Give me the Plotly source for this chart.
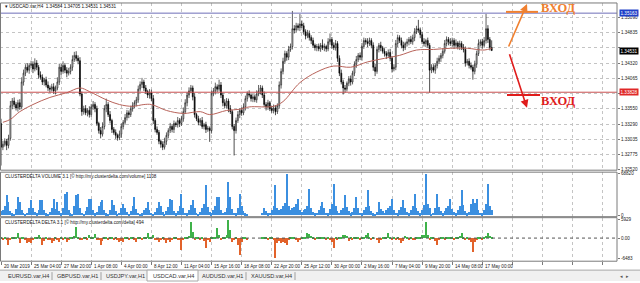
import plotly.graph_objects as go

W, H = 640, 283

# ---------------- data ----------------
tick_bars = [0, 16, 32, 48, 64, 80, 96, 112, 128, 144, 160, 176, 192, 208, 224, 240, 256]
tick_dates = ["20 Mar 2019", "25 Mar 04:00", "27 Mar 20:00", "1 Apr 08:00", "4 Apr 00:00",
              "8 Apr 12:00", "11 Apr 04:00", "15 Apr 16:00", "18 Apr 08:00", "22 Apr 20:00",
              "25 Apr 12:00", "30 Apr 00:00", "2 May 16:00", "7 May 04:00", "9 May 20:00",
              "14 May 08:00", "17 May 00:00"]
grid_bars = [0, 16, 32, 48, 64, 80, 96, 112, 128, 144, 160, 176, 192, 208, 224, 240, 256,
             272, 288, 304, 320]

price_ticks = [1.32520, 1.32775, 1.33035, 1.33290, 1.33550, 1.33805, 1.34065, 1.34320,
               1.34580, 1.34835, 1.35090]
# labels hidden behind the level/price boxes are left blank
price_labels = ["1.32520", "1.32775", "1.33035", "1.33290", "1.33550", "", "1.34065",
                "1.34320", "", "1.34835", "1.35090"]

first_open = 1.3330
closes = [
    1.3290, 1.3295, 1.3300, 1.3293, 1.3305, 1.3360, 1.3368, 1.3362, 1.3356, 1.3365,
    1.3358, 1.3400, 1.3415, 1.3425, 1.3420, 1.3428, 1.3430, 1.3422, 1.3432, 1.3425,
    1.3412, 1.3408, 1.3400, 1.3404, 1.3395, 1.3390, 1.3388, 1.3392, 1.3385, 1.3390,
    1.3400, 1.3425, 1.3418, 1.3428, 1.3420, 1.3415, 1.3418, 1.3425, 1.3438, 1.3445,
    1.3440, 1.3436, 1.3380, 1.3350, 1.3355, 1.3348, 1.3352, 1.3345, 1.3358, 1.3362,
    1.3355, 1.3330, 1.3318, 1.3312, 1.3325, 1.3355, 1.3362, 1.3345, 1.3335, 1.3320,
    1.3315, 1.3310, 1.3306, 1.3312, 1.3325, 1.3332, 1.3340, 1.3348, 1.3345, 1.3355,
    1.3360, 1.3365, 1.3370, 1.3388, 1.3396, 1.3400, 1.3390, 1.3384, 1.3378, 1.3382,
    1.3372, 1.3335, 1.3320, 1.3315, 1.3300, 1.3295, 1.3290, 1.3300, 1.3310, 1.3318,
    1.3325, 1.3320, 1.3330, 1.3328, 1.3335, 1.3330, 1.3338, 1.3350, 1.3365, 1.3378,
    1.3385, 1.3390, 1.3375, 1.3345, 1.3338, 1.3332, 1.3335, 1.3325, 1.3328, 1.3320,
    1.3322, 1.3318, 1.3380, 1.3385, 1.3392, 1.3388, 1.3395, 1.3378, 1.3365, 1.3360,
    1.3368, 1.3355, 1.3350, 1.3325, 1.3318, 1.3335, 1.3345, 1.3352, 1.3348, 1.3358,
    1.3372, 1.3380, 1.3378, 1.3372, 1.3375, 1.3370, 1.3380, 1.3385, 1.3390, 1.3378,
    1.3362, 1.3358, 1.3365, 1.3355, 1.3352, 1.3356, 1.3350, 1.3360, 1.3395, 1.3418,
    1.3435, 1.3448, 1.3442, 1.3455, 1.3460, 1.3490, 1.3488, 1.3495, 1.3492, 1.3498,
    1.3495, 1.3485, 1.3478, 1.3482, 1.3475, 1.3470, 1.3462, 1.3458, 1.3460, 1.3456,
    1.3462, 1.3458, 1.3460, 1.3456, 1.3468, 1.3472, 1.3462, 1.3458, 1.3465, 1.3440,
    1.3415, 1.3400, 1.3390, 1.3388, 1.3398, 1.3405, 1.3400, 1.3415, 1.3430, 1.3438,
    1.3445, 1.3442, 1.3460, 1.3470, 1.3468, 1.3465, 1.3470, 1.3462, 1.3425, 1.3418,
    1.3455, 1.3462, 1.3458, 1.3452, 1.3448, 1.3445, 1.3450, 1.3440, 1.3422, 1.3425,
    1.3465, 1.3475, 1.3470, 1.3462, 1.3458, 1.3465, 1.3468, 1.3472, 1.3468, 1.3475,
    1.3485, 1.3490, 1.3488, 1.3480, 1.3468, 1.3465, 1.3470, 1.3462, 1.3420, 1.3425,
    1.3420, 1.3428, 1.3435, 1.3440, 1.3445, 1.3452, 1.3465, 1.3472, 1.3468, 1.3465,
    1.3470, 1.3462, 1.3466, 1.3460, 1.3465, 1.3458, 1.3455, 1.3432, 1.3435, 1.3428,
    1.3425, 1.3418, 1.3430, 1.3448, 1.3465, 1.3468, 1.3462, 1.3470, 1.3490, 1.3472,
    1.34584, 1.34531]

# wick lengths in pips (0.0001)
upper_wick = [
    8, 6, 5, 4, 6, 8, 5, 6, 4, 5,   6, 8, 6, 5, 7, 4, 6, 5, 8, 5,
    4, 6, 5, 3, 5, 6, 4, 5, 6, 4,   8, 6, 5, 7, 4, 5, 6, 5, 7, 6,
    7, 5, 6, 4, 5, 6, 4, 7, 5, 6,   4, 5, 3, 6, 7, 6, 10, 4, 6, 3,
    4, 5, 3, 6, 5, 4, 6, 5, 4, 5,   6, 4, 5, 6, 5, 7, 4, 5, 3, 6,
    5, 6, 4, 5, 4, 3, 5, 6, 5, 4,   6, 4, 5, 3, 6, 4, 5, 7, 6, 5,
    6, 5, 4, 6, 3, 5, 4, 6, 3, 5,   4, 3, 6, 5, 7, 4, 9, 5, 4, 6,
    5, 4, 6, 3, 4, 5, 6, 4, 5, 6,   5, 4, 6, 3, 5, 4, 6, 10, 5, 4,
    6, 4, 5, 3, 4, 6, 5, 4, 6, 5,   6, 5, 4, 6, 5, 30, 6, 5, 4, 17,
    6, 5, 4, 6, 5, 4, 5, 3, 4, 5,   4, 10, 5, 3, 6, 10, 4, 5, 6, 4,
    5, 6, 4, 5, 3, 5, 6, 4, 5, 6,   4, 5, 6, 5, 4, 6, 5, 4, 5, 6,
    5, 4, 6, 3, 5, 4, 5, 6, 4, 5,   6, 5, 4, 5, 6, 3, 5, 4, 6, 5,
    6, 5, 15, 4, 5, 6, 3, 5, 4, 5,  5, 4, 6, 5, 4, 5, 6, 5, 4, 6,
    5, 4, 6, 3, 5, 4, 6, 5, 4, 5,   5, 4, 6, 5, 7, 4, 5, 6, 25, 6,
    4, 12]
lower_wick = [
    31, 5, 4, 8, 5, 4, 6, 5, 4, 6,  5, 4, 6, 5, 4, 6, 5, 7, 4, 5,
    6, 4, 5, 6, 4, 5, 6, 4, 5, 6,   4, 5, 6, 4, 5, 7, 4, 5, 6, 4,
    5, 6, 4, 7, 5, 4, 6, 5, 4, 5,   6, 4, 5, 7, 4, 5, 6, 4, 5, 6,
    4, 6, 5, 4, 6, 5, 4, 5, 6, 4,   5, 4, 6, 5, 4, 6, 5, 4, 5, 6,
    4, 6, 5, 4, 5, 6, 5, 4, 6, 5,   4, 5, 6, 4, 5, 6, 4, 5, 4, 6,
    5, 4, 6, 5, 4, 5, 6, 4, 5, 6,   4, 19, 5, 4, 6, 5, 4, 5, 6, 4,
    5, 6, 4, 5, 42, 5, 4, 6, 5, 4,  6, 5, 4, 5, 6, 4, 5, 4, 6, 5,
    4, 6, 5, 4, 4, 5, 6, 4, 5, 6,   5, 4, 6, 5, 4, 5, 6, 4, 5, 6,
    4, 5, 6, 4, 5, 6, 4, 5, 6, 4,   5, 4, 6, 5, 4, 5, 6, 4, 5, 6,
    5, 4, 11, 6, 4, 5, 6, 4, 5, 6,  4, 5, 6, 4, 5, 6, 4, 5, 6, 8,
    4, 5, 6, 4, 5, 6, 4, 5, 6, 4,   5, 6, 4, 5, 6, 4, 5, 6, 4, 5,
    6, 4, 5, 6, 4, 5, 6, 4, 38, 5,  4, 6, 5, 4, 6, 5, 4, 5, 6, 4,
    5, 6, 4, 5, 6, 4, 5, 6, 4, 5,   4, 14, 5, 6, 4, 5, 6, 4, 5, 6,
    5, 0]

ma_bars = [1, 5, 10, 17, 26, 35, 42, 47, 56, 63, 70, 76, 80, 88, 97, 106, 111, 120, 127,
           132, 145, 150, 159, 168, 177, 186, 195, 204, 212, 221, 230, 239, 248, 257, 261]
ma_vals = [1.3332, 1.3337, 1.3350, 1.3362, 1.3374, 1.3382, 1.3390, 1.3384, 1.3370, 1.3362,
           1.3359, 1.3362, 1.3362, 1.3352, 1.3347, 1.3350, 1.3345, 1.3352, 1.3354, 1.3358,
           1.3359, 1.3367, 1.3399, 1.3417, 1.3427, 1.3425, 1.3434, 1.3440, 1.3445, 1.3454,
           1.3455, 1.3457, 1.3457, 1.3454, 1.3457]

volume = [
    6000, 8000, 15000, 32300, 21500, 7000, 3000, 2500, 10000, 29600,
    21500, 9000, 3500, 2000, 4000, 11000, 24200, 12000, 5000, 3000,
    9000, 24200, 24000, 8000, 3000, 2000, 5000, 12000, 26900, 10000,
    21500, 6000, 3000, 12000, 34900, 37600, 8000, 3000, 2500, 14000,
    32300, 34900, 12000, 4000, 2000, 6000, 13000, 26900, 26900, 9000,
    3000, 5000, 14000, 21500, 24200, 8000, 3000, 2500, 9000, 24200,
    16000, 6000, 2500, 4000, 11000, 18800, 12000, 5000, 2500, 6000,
    15000, 29600, 10000, 4000, 2000, 3000, 8000, 12000, 21500, 9000,
    4000, 2000, 5000, 11000, 21500, 14000, 5000, 2500, 7000, 13000,
    26900, 24200, 7000, 3000, 6000, 14000, 34900, 12000, 4000, 3000,
    9000, 16000, 24200, 11000, 4000, 2500, 5000, 12000, 18000, 48400,
    13000, 5000, 3000, 8000, 14000, 29600, 29600, 9000, 3500, 5000,
    12000, 53800, 29600, 10000, 4000, 3000, 12000, 34900, 14000, 6000,
    3000, 2000, 0, 0, 0, 0, 0, 0, 0, 4000,
    11800, 6000, 3000, 4000, 9000, 14000, 48400, 12000, 8000, 10000,
    14000, 20000, 67200, 15000, 8000, 11000, 13000, 18000, 26900, 9000,
    5000, 8000, 10000, 14000, 43000, 12000, 5000, 3000, 4000, 9000,
    14000, 21500, 12000, 4000, 3000, 10000, 18000, 51100, 14000, 6000,
    4000, 8000, 12000, 32300, 13000, 6000, 3000, 5000, 12000, 29600,
    11000, 4000, 3000, 9000, 13000, 40300, 14000, 6000, 3000, 1500,
    5000, 21500, 10000, 6000, 4000, 8000, 12000, 14000, 26900, 9000,
    4000, 3000, 8000, 13000, 24200, 11000, 5000, 3000, 8000, 14000,
    34900, 12000, 6000, 3000, 9000, 16000, 67200, 18000, 12000, 2000,
    4000, 12000, 34900, 13000, 6000, 3000, 7000, 12000, 15000, 26900,
    10000, 5000, 3000, 8000, 14000, 40300, 16000, 7000, 3000, 5000,
    18000, 26900, 20000, 26900, 9000, 4000, 3000, 9000, 18000, 51100,
    14000, 8000]

delta = [
    400, -300, 500, -300, -2100, -600, 300, 200, 500, 1600,
    -1600, 400, 300, -200, -1600, -1200, -1600, -400, 300, 200,
    1060, 500, -2100, -800, 200, -200, -500, -1600, -900, 300,
    -300, -1000, 200, -500, 400, -1000, -300, 200, 600, 900,
    3700, 500, -500, -300, 200, 300, -400, 1000, 600, 200,
    1500, -300, -600, -2100, -900, 400, 300, -200, 500, 400,
    -300, 200, -400, -1000, -900, -1000, 300, 200, -300, 400,
    300, -500, -1000, 300, 200, -200, 400, 600, 1600, 500,
    300, 1000, -300, -500, -1000, -400, 200, -300, -1500, -400,
    -1000, -300, 300, 200, -400, -600, -3700, -500, 300, 400,
    900, 5300, 2100, -400, 200, 300, -200, 300, -800, -3200,
    -600, -1000, 300, 400, 600, 3200, 1200, -300, 200, 400,
    1000, 5830, 2600, -1000, -400, 200, -2100, -5300, -1200, 300,
    200, -200, 0, 0, 0, 0, 0, 0, 0, 500,
    400, 300, -200, 300, 200, -600, -6400, -1600, -800, -1600,
    -1200, -1600, -2100, -500, 300, 200, 400, -300, -1000, -300,
    200, 300, 600, 1600, 1400, 800, 200, -200, 300, 200,
    500, 600, 300, -200, 200, -500, -1200, -3200, 500, -300,
    200, 300, 1000, 1100, 900, -800, 200, -300, 400, 500,
    300, -200, 300, 600, 1000, 1600, 500, -300, 200, 0,
    -300, -1600, -500, 300, 200, 600, 1600, 400, -300, 200,
    -400, 300, -600, -1600, -800, 800, 300, -200, 300, -500,
    -300, 500, 200, 400, 1000, 1200, 5300, 1000, -300, 200,
    300, -800, -2100, -500, 200, 300, -200, 300, 200, 500,
    300, -300, 200, 400, 900, 1600, 600, -300, 200, -400,
    -1000, -4240, -1000, -300, 200, 300, -200, 500, 800, 1600,
    900, 400]

level_high = 1.35163
level_low = 1.33828
last_price = 1.34531

vol_ticks = [68820, 0]
vol_labels = ["68820", "0"]
delta_ticks = [5929, 0, -6483]
delta_labels = ["5929", "0.00", "-6483"]

tabs = ["EURUSD.var,H4", "GBPUSD.var,H1", "USDJPY.var,H1", "USDCAD.var,H4",
        "AUDUSD.var,H1", "XAUUSD.var,H4"]
active_tab = "USDCAD.var,H4"
header = "▾ USDCAD.var,H4  1.34584 1.34705 1.34531 1.34531"
vol_title = "CLUSTERDELTA VOLUME 3.1 [© http://my.clusterdelta.com/volume] 1108"
delta_title = "CLUSTERDELTA DELTA 3.1 [© http://my.clusterdelta.com/delta] 494"
entry_text = "ВХОД"

# ---------------- derived ----------------
bars = list(range(len(closes)))
opens = [first_open] + closes[:-1]
highs = [max(o, c) + u * 1e-4 for o, c, u in zip(opens, closes, upper_wick)]
lows = [min(o, c) - d * 1e-4 for o, c, d in zip(opens, closes, lower_wick)]

# ---------------- layout helpers ----------------
def px(x):
    return x / W

def py(y):
    return 1 - y / H

XR = 617  # right edge of plotting panels (px)
x_range = [-0.53, 327.66]
FONT = "Liberation Sans, Arial, sans-serif"
SMALL = 4.6
GRID = "#c4c4c4"
BORDER = "#7a7a7a"

fig = go.Figure()

fig.add_trace(go.Candlestick(
    x=bars, open=opens, high=highs, low=lows, close=closes,
    increasing=dict(line=dict(color="#202020", width=0.7), fillcolor="white"),
    decreasing=dict(line=dict(color="#000000", width=0.7), fillcolor="#000000"),
    whiskerwidth=0, showlegend=False, hoverinfo="skip", xaxis="x", yaxis="y"))

fig.add_trace(go.Scatter(
    x=ma_bars, y=ma_vals, mode="lines", line=dict(color="#b8635a", width=1, shape="spline"),
    showlegend=False, hoverinfo="skip", xaxis="x", yaxis="y"))

fig.add_trace(go.Bar(
    x=bars, y=volume, marker=dict(color="#3b8fe0", line=dict(width=0)), width=0.62,
    showlegend=False, hoverinfo="skip", xaxis="x2", yaxis="y2"))

fig.add_trace(go.Bar(
    x=bars, y=delta,
    marker=dict(color=["#3fb24a" if v >= 0 else "#e2622a" for v in delta], line=dict(width=0)),
    width=0.62, showlegend=False, hoverinfo="skip", xaxis="x3", yaxis="y3"))

xcommon = dict(domain=[0, px(XR)], range=x_range, tickmode="array", tickvals=grid_bars,
               showticklabels=False, showgrid=True, gridcolor=GRID, griddash="dot",
               gridwidth=1, zeroline=False, showline=False, fixedrange=True)

# main panel y: px 2 .. 171 ; volume 173 .. 218 ; delta 219 .. 263
main_dom = [py(171), py(2)]
vol_dom = [py(218), py(173)]
del_dom = [py(263), py(219)]

p_per_px = (1.34835 - 1.32520) / (171 - 32)
main_range = [1.32520 - 0.5 * p_per_px, 1.32520 + (171 - 2) * p_per_px]

v_per_px = 68820 / (216.5 - 174)
vol_range = [-(218 - 216.5) * v_per_px, 68820 + (174 - 173) * v_per_px]

d_per_px = (5929 + 6483) / (260 - 221)
del_range = [-6483 - (263 - 260) * d_per_px, 5929 + (221 - 219) * d_per_px]

ycommon = dict(side="right", ticks="outside", ticklen=2, tickcolor=BORDER,
               tickfont=dict(size=SMALL, color="#222", family=FONT), zeroline=False,
               showline=False, fixedrange=True, tickmode="array")

fig.update_layout(
    width=W, height=H, margin=dict(l=0, r=0, t=0, b=0, pad=0),
    paper_bgcolor="white", plot_bgcolor="white", bargap=0, showlegend=False,
    font=dict(family=FONT),
    xaxis=dict(**xcommon, anchor="y", rangeslider=dict(visible=False)),
    xaxis2=dict(**xcommon, anchor="y2", matches="x"),
    xaxis3=dict(**xcommon, anchor="y3", matches="x", ticks="outside", ticklen=3,
                tickcolor=BORDER),
    yaxis=dict(**ycommon, domain=main_dom, range=main_range, anchor="x",
               tickvals=price_ticks, ticktext=price_labels, showgrid=True,
               gridcolor=GRID, griddash="dot"),
    yaxis2=dict(**ycommon, domain=vol_dom, range=vol_range, anchor="x2",
                tickvals=vol_ticks, ticktext=vol_labels, showgrid=False),
    yaxis3=dict(**ycommon, domain=del_dom, range=del_range, anchor="x3",
                tickvals=delta_ticks, ticktext=delta_labels, showgrid=False),
)

shapes = []
annotations = []

# level lines
shapes.append(dict(type="line", xref="paper", yref="y", x0=0, x1=px(XR),
                   y0=level_high, y1=level_high, line=dict(color="#6f6fb8", width=1)))
shapes.append(dict(type="line", xref="paper", yref="y", x0=0, x1=px(XR),
                   y0=level_low, y1=level_low, line=dict(color="#c85050", width=1)))
# delta zero line
shapes.append(dict(type="line", xref="paper", yref="y3", x0=0, x1=px(XR), y0=0, y1=0,
                   line=dict(color="#555", width=1, dash="dot")))

# panel borders
for (y0, y1) in [(2, 171), (173, 218), (219, 263)]:
    shapes.append(dict(type="rect", xref="paper", yref="paper", x0=px(0.5), x1=px(XR),
                       y0=py(y1), y1=py(y0), line=dict(color=BORDER, width=1),
                       fillcolor="rgba(0,0,0,0)", layer="above"))

# entry markers (hand-drawn lines)
shapes.append(dict(type="line", xref="paper", yref="paper", x0=px(506), x1=px(538),
                   y0=py(11), y1=py(11), line=dict(color="#f08030", width=2)))
shapes.append(dict(type="line", xref="paper", yref="paper", x0=px(507), x1=px(540),
                   y0=py(95), y1=py(95), line=dict(color="#e01c1c", width=2)))

annotations.append(dict(xref="paper", yref="paper", x=px(527), y=py(3), ax=-19, ay=44,
                        axref="pixel", ayref="pixel", text="", showarrow=True,
                        arrowhead=2, arrowsize=1, arrowwidth=1.6, arrowcolor="#f08030"))
annotations.append(dict(xref="paper", yref="paper", x=px(527), y=py(108), ax=-18, ay=-55,
                        axref="pixel", ayref="pixel", text="", showarrow=True,
                        arrowhead=2, arrowsize=1, arrowwidth=1.6, arrowcolor="#e01c1c"))
annotations.append(dict(xref="paper", yref="paper", x=px(539), y=py(7.5), xanchor="left",
                        yanchor="middle", showarrow=False, text="<b>" + entry_text + "</b>",
                        font=dict(family="Liberation Serif, Times New Roman, serif", size=12.5,
                                  color="#f08030")))
annotations.append(dict(xref="paper", yref="paper", x=px(539), y=py(101), xanchor="left",
                        yanchor="middle", showarrow=False, text="<b>" + entry_text + "</b>",
                        font=dict(family="Liberation Serif, Times New Roman, serif", size=12.5,
                                  color="#e01c1c")))

# price label boxes on the right axis
for val, bg in [(level_high, "#2040c8"), (last_price, "#000000"), (level_low, "#e02828")]:
    annotations.append(dict(xref="paper", yref="y", x=px(618.5), y=val, xanchor="left",
                            yanchor="middle", showarrow=False, text=f"{val:.5f}",
                            bgcolor=bg, borderpad=0.5,
                            font=dict(size=SMALL, color="white", family=FONT)))

# panel titles
annotations.append(dict(xref="paper", yref="paper", x=px(3), y=py(5.5), xanchor="left",
                        yanchor="middle", showarrow=False, text=header,
                        font=dict(size=SMALL, color="#111", family=FONT)))
annotations.append(dict(xref="paper", yref="paper", x=px(3), y=py(177), xanchor="left",
                        yanchor="middle", showarrow=False, text=vol_title,
                        font=dict(size=SMALL, color="#111", family=FONT)))
annotations.append(dict(xref="paper", yref="paper", x=px(3), y=py(223), xanchor="left",
                        yanchor="middle", showarrow=False, text=delta_title,
                        font=dict(size=SMALL, color="#111", family=FONT)))

# time labels (left-aligned at their tick, MT4 style)
for b, t in zip(tick_bars, tick_dates):
    annotations.append(dict(xref="x3", yref="paper", x=b, y=py(268.5), xanchor="left",
                            yanchor="middle", showarrow=False, text=t, xshift=0.5,
                            font=dict(size=SMALL, color="#222", family=FONT)))

# tab bar
shapes.append(dict(type="rect", xref="paper", yref="paper", x0=0, x1=1, y0=0, y1=py(272),
                   fillcolor="#f0f0f0", line=dict(width=0), layer="below"))
shapes.append(dict(type="line", xref="paper", yref="paper", x0=0, x1=1, y0=py(272),
                   y1=py(272), line=dict(color="#a8a8a8", width=1)))
tab_x = [6, 55, 104, 151, 200, 249]
tab_w = 46
for x, name in zip(tab_x, tabs):
    if name == active_tab:
        shapes.append(dict(type="rect", xref="paper", yref="paper", x0=px(x - 4),
                           x1=px(x + tab_w + 1), y0=0, y1=py(272), fillcolor="white",
                           line=dict(color="#a8a8a8", width=1)))
    else:
        shapes.append(dict(type="line", xref="paper", yref="paper", x0=px(x + tab_w),
                           x1=px(x + tab_w), y0=py(282), y1=py(274),
                           line=dict(color="#a0a0a0", width=1)))
    annotations.append(dict(xref="paper", yref="paper", x=px(x), y=py(277.5), xanchor="left",
                            yanchor="middle", showarrow=False, text=name,
                            font=dict(size=5.6, color="#333", family=FONT)))
annotations.append(dict(xref="paper", yref="paper", x=px(631), y=py(277.5), xanchor="right",
                        yanchor="middle", showarrow=False, text="◂  ▸",
                        font=dict(size=5, color="#555", family=FONT)))

fig.update_layout(shapes=shapes, annotations=annotations)

fig.write_html("out.html")
